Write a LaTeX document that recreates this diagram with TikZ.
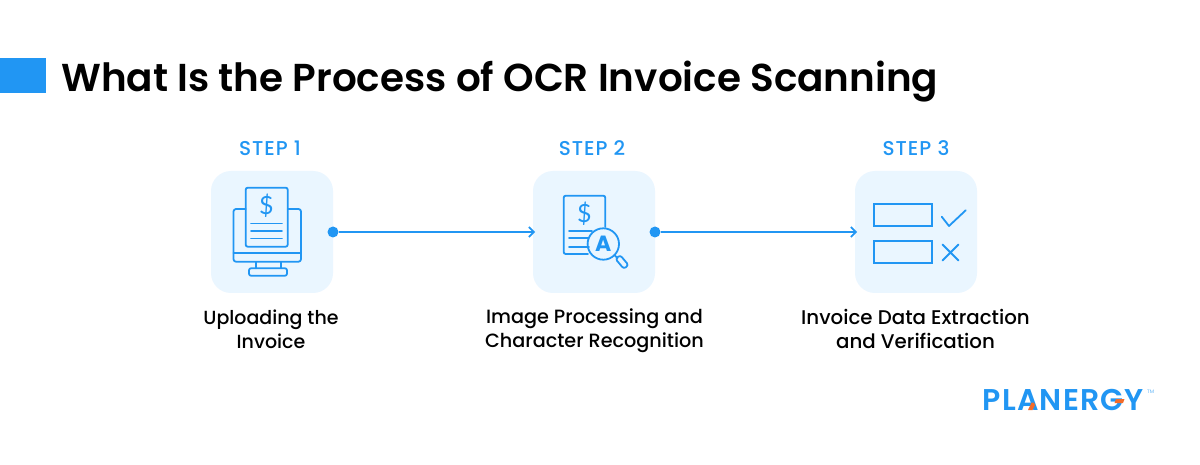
\documentclass[tikz,border=0pt]{standalone}
\usepackage{fontspec}
\setmainfont{Poppins}
\newfontfamily\med{Poppins Medium}
\newfontfamily\semi{Poppins SemiBold}
\newfontfamily\boldf{Poppins Bold}
\newfontfamily\dollarfont{Lato}
\newfontfamily\stepfont[LetterSpace=5]{Poppins Medium}
\newfontfamily\logofont[LetterSpace=4]{Poppins SemiBold}
\usetikzlibrary{arrows.meta}
\definecolor{bl}{HTML}{2196F3}
\definecolor{pale}{HTML}{EAF6FF}
\definecolor{org}{HTML}{F26B2A}
\tikzset{
  card/.style={fill=pale,draw=none,rounded corners=20pt,minimum width=122pt,minimum height=122pt,inner sep=0pt},
  ico/.style={draw=bl,line width=1.8pt,line join=round,line cap=round},
  stepl/.style={text=bl,font=\stepfont\fontsize{20}{22}\selectfont,inner sep=0pt,anchor=base},
  capt/.style={text=black,font=\med\fontsize{19}{24}\selectfont,align=center,inner sep=0pt},
  dotn/.style={circle,fill=bl,draw=none,minimum size=11pt,inner sep=0pt},
  link/.style={draw=bl,line width=1.6pt,-{Straight Barb[length=5pt,width=10pt,line width=1.6pt]}},
  usd/.style={text=bl,font=\dollarfont\fontsize{25}{25}\selectfont,inner sep=0pt}
}
\begin{document}
\begin{tikzpicture}[x=1pt,y=-1pt]
\useasboundingbox (0,0) rectangle (1200,465);
\fill[white] (0,0) rectangle (1200,465);
\fill[bl] (0,58) rectangle (46,93);
\node[anchor=base west,inner sep=0pt,font=\semi\fontsize{38.9}{42}\selectfont] (title) at (61,92) {What Is the Process of OCR Invoice Scanning};
% cards
\node[card] (c1) at (272,232) {};
\node[card] (c2) at (594,232) {};
\node[card] (c3) at (916,232) {};
\node[stepl] (s1) at (270,156) {STEP 1};
\node[stepl] (s2) at (592,156) {STEP 2};
\node[stepl] (s3) at (916,156) {STEP 3};
\node[capt] (t1) at (271,329) {Uploading the\\Invoice};
\node[capt,font=\med\fontsize{19.2}{24}\selectfont] (t2) at (594.5,331) {Image Processing and\\Character Recognition};
\node[capt,font=\med\fontsize{19.8}{24}\selectfont] (t3) at (915.5,329) {Invoice Data Extraction\\and Verification};
% connectors
\node[dotn] (d1) at (333,232) {};
\node[dotn] (d2) at (655,232) {};
\coordinate (e2) at (535,232);
\coordinate (e3) at (857,232);
\draw[link] (d1) -- (e2);
\draw[link] (d2) -- (e3);
% icon 1: monitor
\draw[ico,rounded corners=2.5pt] (245.7,209) -- (233.5,209) -- (233.5,261.7) -- (301,261.7) -- (301,209) -- (287.7,209);
\draw[ico] (233.5,253.3) -- (301,253.3);
\draw[ico] (255.7,262) -- (255.7,268.3) (281,262) -- (281,268.3);
\draw[ico,rounded corners=2pt] (249,268.3) rectangle (287,275.7);
\draw[ico,rounded corners=2pt] (245.7,187.7) rectangle (287.7,246.7);
\draw[ico] (251,223.5) -- (282,223.5) (251,231) -- (282,231) (251,238.5) -- (282,238.5);
\node[usd] (u1) at (266.3,206) {\$};
% icon 2: document under lens
\draw[ico,rounded corners=2pt] (588,254) -- (563.7,254) -- (563.7,195.7) -- (605.3,195.7) -- (605.3,227);
\draw[ico] (569,230.7) -- (592,230.7) (569,238.3) -- (588,238.3) (569,246.7) -- (589,246.7);
\node[usd] (u2) at (584.3,214) {\$};
\draw[ico] (603.3,244) circle (15.7);
\node[text=bl,inner sep=0pt,font=\boldf\fontsize{22}{22}\selectfont] (a2) at (603.3,243.5) {A};
\draw[ico] (614.5,255.2) -- (617.5,258.2);
\draw[ico,rotate around={-50:(622,262)},rounded corners=2.5pt] (615.5,259) rectangle (628.5,265);
% icon 3: check lists
\draw[draw=bl,line width=2pt] (873.7,203.7) rectangle (932.3,226.3);
\draw[draw=bl,line width=2pt] (873.7,240.7) rectangle (932.3,263.3);
\draw[ico] (941.7,216.7) -- (949,226) -- (965.7,210.3);
\draw[ico] (942.5,244.5) -- (958.5,260.5) (958.5,244.5) -- (942.5,260.5);
% logo
\node[anchor=base west,inner sep=0pt,text=bl,font=\logofont\fontsize{30}{30}\selectfont] (logo) at (982.5,410) {PLANERGY};
\node[anchor=base west,inner sep=0pt,text=bl!70,font=\fontsize{5}{6}\selectfont] (tm) at (1147,393) {TM};
\fill[org] (1028,410) -- (1031.5,402.7) -- (1034,402.7) -- (1035,405) -- (1032.5,410) -- cycle;
\fill[org] (1116,399) -- (1124.5,399) -- (1123,403) -- (1114.5,403) -- cycle;
\end{tikzpicture}
\end{document}
